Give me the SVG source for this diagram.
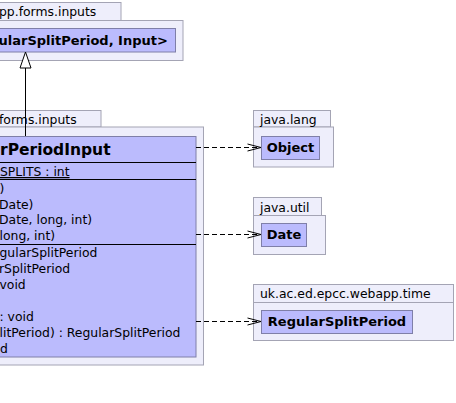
<svg xmlns="http://www.w3.org/2000/svg" width="456" height="403" viewBox="0 0 456 403">
<defs>
<style>
.pkg{fill:#EEEEFB;stroke:#A4A4B4;stroke-width:1}
.cls{fill:#BBBBFD;stroke:#7F7FA8;stroke-width:1}
.sep{stroke:#000;stroke-width:1}
.plbl{font-family:"DejaVu Sans",sans-serif;font-size:12.4px;fill:#000}
.cname{font-family:"DejaVu Sans",sans-serif;font-size:13px;font-weight:bold;fill:#000}
.mem{font-family:"DejaVu Sans",sans-serif;font-size:12.4px;fill:#000}
.dep{stroke:#000;stroke-width:1;stroke-dasharray:5,3;fill:none}
.head{stroke:#000;stroke-width:1;fill:none}
</style>
</defs>
<rect width="456" height="403" fill="#fff"/>

<g id="pkg-top">
<rect class="pkg" x="-10" y="2.5" width="131" height="18"/>
<rect class="pkg" x="-10" y="20.5" width="193" height="40"/>
<text class="plbl" x="-1" y="16">pp.forms.inputs</text>
</g>
<g id="class-top">
<rect class="cls" x="-10" y="28.5" width="185.5" height="23.5"/>
<text class="cname" x="-1.5" y="44.5">ularSplitPeriod, Input&gt;</text>
</g>

<g id="pkg-main">
<rect class="pkg" x="-10" y="110.5" width="111" height="16.5"/>
<rect class="pkg" x="-10" y="127" width="213.5" height="238"/>
<text class="plbl" x="-1" y="123.5">forms.inputs</text>
</g>
<g id="class-main">
<rect class="cls" x="-10" y="136.5" width="206" height="220.5"/>
<text x="0" y="155" style="font-family:'DejaVu Sans',sans-serif;font-size:15.5px;font-weight:bold">rPeriodInput</text>
<line class="sep" x1="-10" y1="162.5" x2="196" y2="162.5"/>
<text class="mem" x="0" y="176" text-decoration="underline">SPLITS : int</text>
<line class="sep" x1="-10" y1="179.5" x2="196" y2="179.5"/>
<text class="mem" x="-0.5" y="192.5">)</text>
<text class="mem" x="-1" y="208.5">Date)</text>
<text class="mem" x="-1" y="224.3">Date, long, int)</text>
<text class="mem" x="-0.5" y="240">long, int)</text>
<line class="sep" x1="-10" y1="244.5" x2="196" y2="244.5"/>
<text class="mem" x="-0.5" y="257">gularSplitPeriod</text>
<text class="mem" x="-1" y="273">rSplitPeriod</text>
<text class="mem" x="-0.5" y="289">void</text>
<text class="mem" x="-0.5" y="321">: void</text>
<text class="mem" x="-0.5" y="337">litPeriod) : RegularSplitPeriod</text>
<text class="mem" x="0" y="353">d</text>
</g>

<g id="pkg-java-lang">
<rect class="pkg" x="253.5" y="110.5" width="77" height="16.5"/>
<rect class="pkg" x="253.5" y="127" width="80" height="40"/>
<text class="plbl" x="260" y="124">java.lang</text>
</g>
<g id="class-object">
<rect class="cls" x="261.5" y="136.5" width="58" height="23"/>
<text class="cname" x="290.5" y="152" text-anchor="middle">Object</text>
</g>

<g id="pkg-java-util">
<rect class="pkg" x="253.5" y="197.5" width="68" height="18"/>
<rect class="pkg" x="253.5" y="215.5" width="72" height="39"/>
<text class="plbl" x="260" y="211.8">java.util</text>
</g>
<g id="class-date">
<rect class="cls" x="261.5" y="223.5" width="45" height="23"/>
<text class="cname" x="284" y="239" text-anchor="middle">Date</text>
</g>

<g id="pkg-time">
<rect class="pkg" x="253.5" y="284.5" width="200" height="18"/>
<rect class="pkg" x="253.5" y="302.5" width="200" height="38"/>
<text class="plbl" x="260" y="297.5">uk.ac.ed.epcc.webapp.time</text>
</g>
<g id="class-rsp">
<rect class="cls" x="261.5" y="310.5" width="151" height="23"/>
<text class="cname" x="337" y="326" text-anchor="middle">RegularSplitPeriod</text>
</g>

<g id="connectors">
<line x1="25.5" y1="68" x2="25.5" y2="136" stroke="#000" stroke-width="1"/>
<polygon points="25.5,52 20,68 31,68" fill="#fff" stroke="#000" stroke-width="1"/>
<line class="dep" x1="196" y1="147.5" x2="260" y2="147.5"/>
<polyline class="head" points="247.5,144 261,147.5 247.5,151"/>
<line class="dep" x1="196" y1="234.5" x2="260" y2="234.5"/>
<polyline class="head" points="247.5,231 261,234.5 247.5,238"/>
<line class="dep" x1="196" y1="321.5" x2="260" y2="321.5"/>
<polyline class="head" points="247.5,318 261,321.5 247.5,325"/>
</g>
</svg>
